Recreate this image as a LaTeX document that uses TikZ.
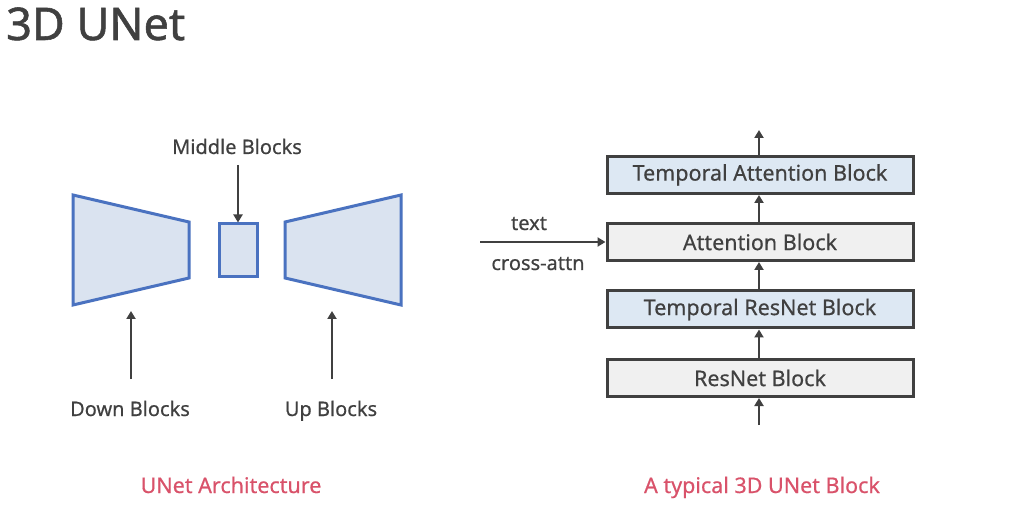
\documentclass[tikz,border=0pt]{standalone}
\usepackage{fontspec}
\setmainfont{Noto Sans}[BoldFont={Noto Sans},BoldFeatures={FakeBold=0.5}]
\newfontfamily\titlefont{Noto Sans}[BoldFont={Noto Sans},BoldFeatures={FakeBold=1.2}]
\usetikzlibrary{arrows.meta}
\definecolor{txt}{HTML}{404040}
\definecolor{bluefill}{HTML}{DAE3F0}
\definecolor{bluestroke}{HTML}{4A72C0}
\definecolor{tblock}{HTML}{DDE8F3}
\definecolor{gblock}{HTML}{F0F0F0}
\definecolor{capred}{HTML}{D9526A}
\begin{document}
\begin{tikzpicture}[x=1pt,y=-1pt,
  unetpart/.style={fill=bluefill,draw=bluestroke,line width=3pt,line join=miter},
  blockbox/.style={draw=txt,line width=3pt,minimum width=306pt,minimum height=37pt,inner sep=0pt,font=\fontsize{21.5}{24}\selectfont\bfseries,text=txt},
  flow/.style={draw=txt,line width=2.5pt,-{Triangle[length=8pt,width=9pt]}},
  lbl/.style={font=\fontsize{20}{22}\selectfont\bfseries,text=txt,inner sep=0pt},
  caption/.style={font=\fontsize{21.5}{24}\selectfont\bfseries,text=capred,inner sep=0pt}]
\useasboundingbox (0,0) rectangle (1014,510);
\fill[white] (0,0) rectangle (1014,510);
% title
\node[anchor=base west,inner sep=0pt,text=txt,font=\titlefont\fontsize{45}{50}\selectfont\bfseries] (title) at (6,40) {3D UNet};
% left architecture
\draw[unetpart] (73,195) -- (189,222) -- (189,278) -- (73,305) -- cycle;
\node[unetpart,minimum width=38pt,minimum height=53pt,inner sep=0pt] (mid) at (238,250.5) {};
\draw[unetpart] (401,195) -- (285,222) -- (285,278) -- (401,305) -- cycle;
\coordinate (downtip) at (131,311);
\coordinate (uptip) at (332,311);
\node[lbl,anchor=base] (midlbl) at (237,154) {Middle Blocks};
\node[lbl,anchor=base] (downlbl) at (130,416) {Down Blocks};
\node[lbl,anchor=base] (uplbl) at (331,416) {Up Blocks};
\coordinate (midstart) at (238,165);
\coordinate (downstart) at (131,379);
\coordinate (upstart) at (332,379);
\draw[flow] (midstart) -- (mid.north);
\draw[flow] (downstart) -- (downtip);
\draw[flow] (upstart) -- (uptip);
% right block
\node[blockbox,fill=tblock] (tab) at (760,175) {Temporal Attention Block};
\node[blockbox,fill=gblock] (ab) at (760,242) {Attention Block};
\node[blockbox,fill=tblock] (trb) at (760,309.5) {Temporal ResNet Block};
\node[blockbox,fill=gblock] (rb) at (760,378) {ResNet Block};
\coordinate (outtop) at (759,130);
\coordinate (inbot) at (759,425);
\coordinate (textin) at (480,242);
\draw[flow] (tab.north -| outtop) -- (outtop);
\draw[flow] (ab.north -| outtop) -- (tab.south -| outtop);
\draw[flow] (trb.north -| outtop) -- (ab.south -| outtop);
\draw[flow] (rb.north -| outtop) -- (trb.south -| outtop);
\draw[flow] (inbot) -- (rb.south -| inbot);
\draw[flow] (textin) -- (ab.west);
\node[lbl,anchor=base] (textlbl) at (529,230) {text};
\node[lbl,anchor=base] (xattn) at (538,270) {cross-attn};
% captions
\node[caption,anchor=base] (cap1) at (231,493) {UNet Architecture};
\node[caption,anchor=base] (cap2) at (762,493) {A typical 3D UNet Block};
\end{tikzpicture}
\end{document}
